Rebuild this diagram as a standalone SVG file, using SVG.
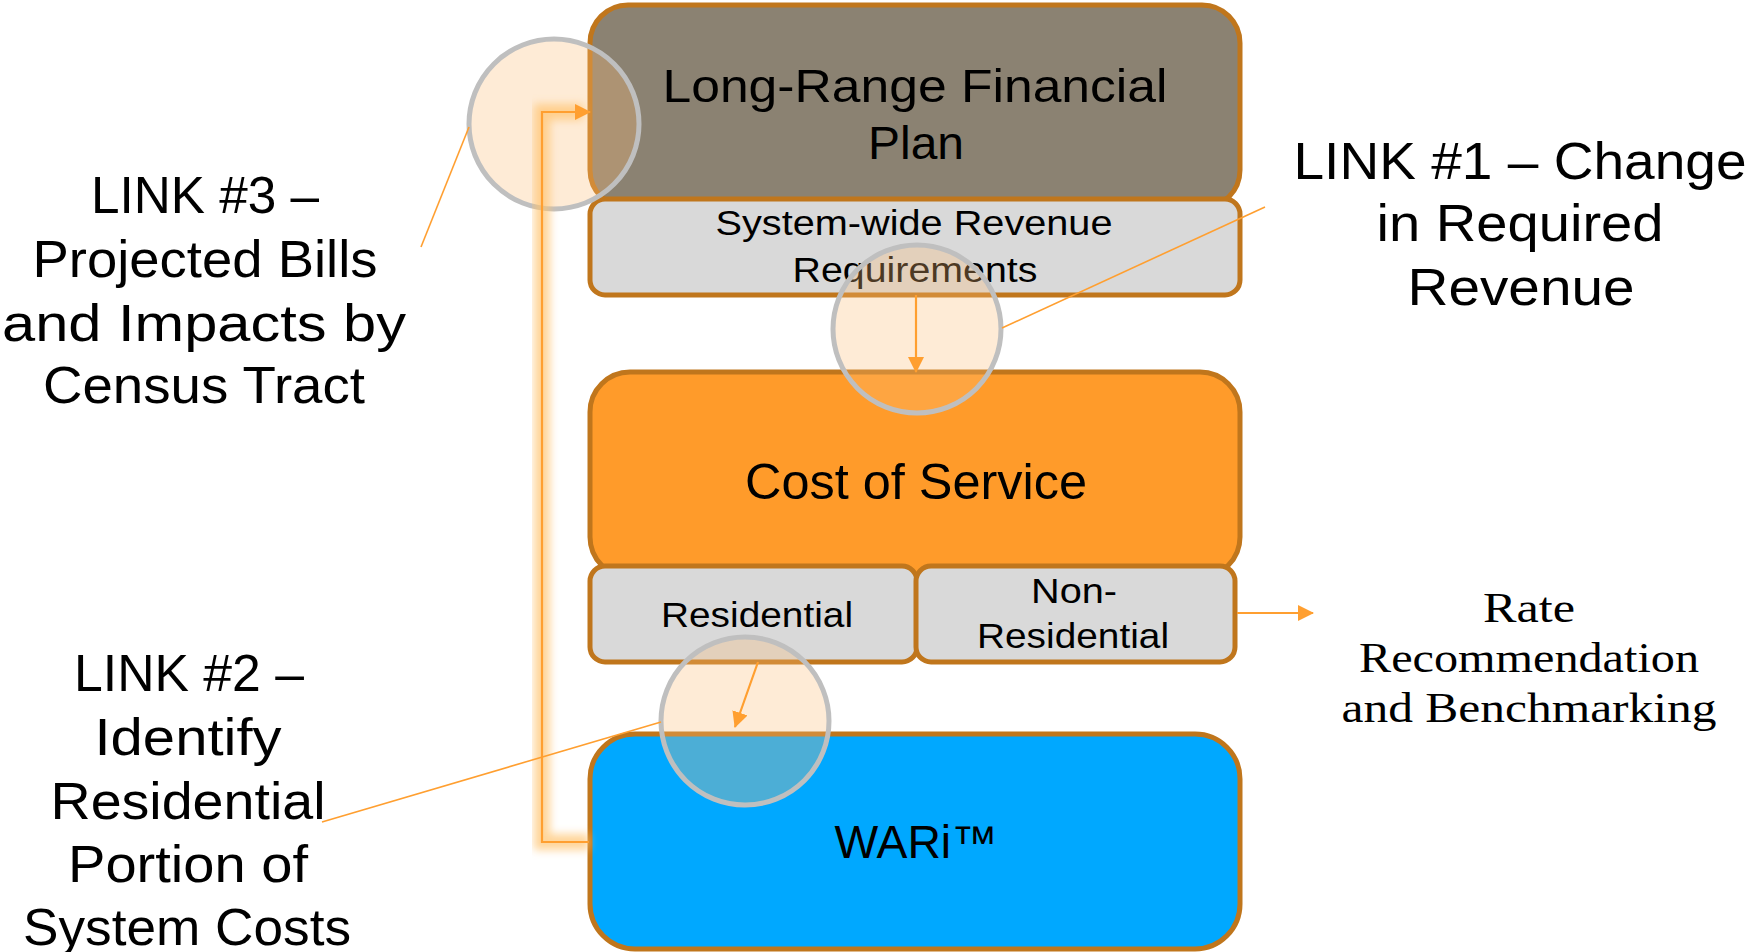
<svg xmlns="http://www.w3.org/2000/svg" width="1755" height="952" viewBox="0 0 1755 952">
<style>
.box{stroke:#c0761c;stroke-width:5}
.t{font-family:"Liberation Sans","DejaVu Sans",sans-serif;fill:#000;text-anchor:middle}
.s{font-family:"Liberation Serif","DejaVu Serif",serif;fill:#000;text-anchor:middle}
.conn{fill:none;stroke:#ff9f30;stroke-width:2.2}
.lead{fill:none;stroke:#ff9f30;stroke-width:1.6}
.ring{fill:rgb(252,189,119);fill-opacity:0.3;stroke:#bfbfbf;stroke-width:5}
</style>
<defs>
<marker id="ah" markerUnits="userSpaceOnUse" markerWidth="16" markerHeight="16" viewBox="0 0 16 16" refX="15" refY="8" orient="auto">
<path d="M0,0 L16,8 L0,16 Z" fill="#ff9f30"/>
</marker>
<filter id="glow" x="-20%" y="-20%" width="140%" height="140%">
<feGaussianBlur stdDeviation="4"/>
</filter>
</defs>
<rect width="1755" height="952" fill="#fff"/>

<g id="lrfp">
<rect class="box" x="590" y="5" width="650" height="203" rx="38" fill="#8b8272"/>
<text class="t" x="915" y="102" font-size="46" textLength="505" lengthAdjust="spacingAndGlyphs">Long-Range Financial</text>
<text class="t" x="916" y="159" font-size="46" textLength="96" lengthAdjust="spacingAndGlyphs">Plan</text>
</g>
<g id="swrr">
<rect class="box" x="590" y="199" width="650" height="96" rx="15" fill="#d9d9d9"/>
<text class="t" x="914" y="235" font-size="35" textLength="397" lengthAdjust="spacingAndGlyphs">System-wide Revenue</text>
<text class="t" x="915" y="282" font-size="35" textLength="245" lengthAdjust="spacingAndGlyphs">Requirements</text>
</g>
<g id="cos">
<rect class="box" x="590" y="372" width="650" height="205" rx="40" fill="#ff9b2a"/>
<text class="t" x="916" y="499" font-size="50" textLength="342" lengthAdjust="spacingAndGlyphs">Cost of Service</text>
</g>
<g id="res">
<rect class="box" x="590" y="566" width="327" height="96" rx="15" fill="#d9d9d9"/>
<text class="t" x="757" y="627" font-size="35" textLength="192" lengthAdjust="spacingAndGlyphs">Residential</text>
</g>
<g id="nonres">
<rect class="box" x="916" y="566" width="319" height="96" rx="15" fill="#d9d9d9"/>
<text class="t" x="1074" y="603" font-size="35" textLength="86" lengthAdjust="spacingAndGlyphs">Non-</text>
<text class="t" x="1073" y="648" font-size="35" textLength="192" lengthAdjust="spacingAndGlyphs">Residential</text>
</g>
<g id="wari">
<rect class="box" x="590" y="734" width="650" height="215" rx="45" fill="#00a8ff"/>
<text class="t" x="916" y="858" font-size="46" textLength="163" lengthAdjust="spacingAndGlyphs">WARi™</text>
</g>

<g id="rings">
<circle class="ring" cx="554" cy="124" r="85"/>
<circle class="ring" cx="917" cy="329" r="84"/>
<circle class="ring" cx="745" cy="721" r="84"/>
</g>

<g id="connectors">
<path d="M589,842 H542 V112 H583" fill="none" stroke="#ffc36e" stroke-width="16" stroke-opacity="0.7" filter="url(#glow)"/>
<path class="conn" d="M589,842 H542 V112 H590" marker-end="url(#ah)"/>
<path class="conn" d="M916,295 V372" marker-end="url(#ah)"/>
<path class="conn" d="M758,662 L735,727" marker-end="url(#ah)"/>
<path class="conn" d="M1237,613 H1313" marker-end="url(#ah)"/>
<path class="lead" d="M469,127 L421,247"/>
<path class="lead" d="M1002,328 L1265,207"/>
<path class="lead" d="M661,722 L322,822"/>
</g>

<g id="link3">
<text class="t" x="205" y="213" font-size="52" textLength="228" lengthAdjust="spacingAndGlyphs">LINK #3 –</text>
<text class="t" x="205" y="277" font-size="52" textLength="345" lengthAdjust="spacingAndGlyphs">Projected Bills</text>
<text class="t" x="204" y="341" font-size="52" textLength="404" lengthAdjust="spacingAndGlyphs">and Impacts by</text>
<text class="t" x="204" y="403" font-size="52" textLength="322" lengthAdjust="spacingAndGlyphs">Census Tract</text>
</g>
<g id="link2">
<text class="t" x="189" y="691" font-size="52" textLength="230" lengthAdjust="spacingAndGlyphs">LINK #2 –</text>
<text class="t" x="188" y="755" font-size="52" textLength="187" lengthAdjust="spacingAndGlyphs">Identify</text>
<text class="t" x="188" y="819" font-size="52" textLength="275" lengthAdjust="spacingAndGlyphs">Residential</text>
<text class="t" x="188" y="882" font-size="52" textLength="240" lengthAdjust="spacingAndGlyphs">Portion of</text>
<text class="t" x="187" y="945" font-size="52" textLength="328" lengthAdjust="spacingAndGlyphs">System Costs</text>
</g>
<g id="link1">
<text class="t" x="1520" y="179" font-size="52" textLength="453" lengthAdjust="spacingAndGlyphs">LINK #1 – Change</text>
<text class="t" x="1520" y="241" font-size="52" textLength="287" lengthAdjust="spacingAndGlyphs">in Required</text>
<text class="t" x="1521" y="305" font-size="52" textLength="227" lengthAdjust="spacingAndGlyphs">Revenue</text>
</g>
<g id="rate">
<text class="s" x="1529" y="622" font-size="42" textLength="92" lengthAdjust="spacingAndGlyphs">Rate</text>
<text class="s" x="1529" y="672" font-size="42" textLength="340" lengthAdjust="spacingAndGlyphs">Recommendation</text>
<text class="s" x="1529" y="722" font-size="42" textLength="375" lengthAdjust="spacingAndGlyphs">and Benchmarking</text>
</g>
</svg>
